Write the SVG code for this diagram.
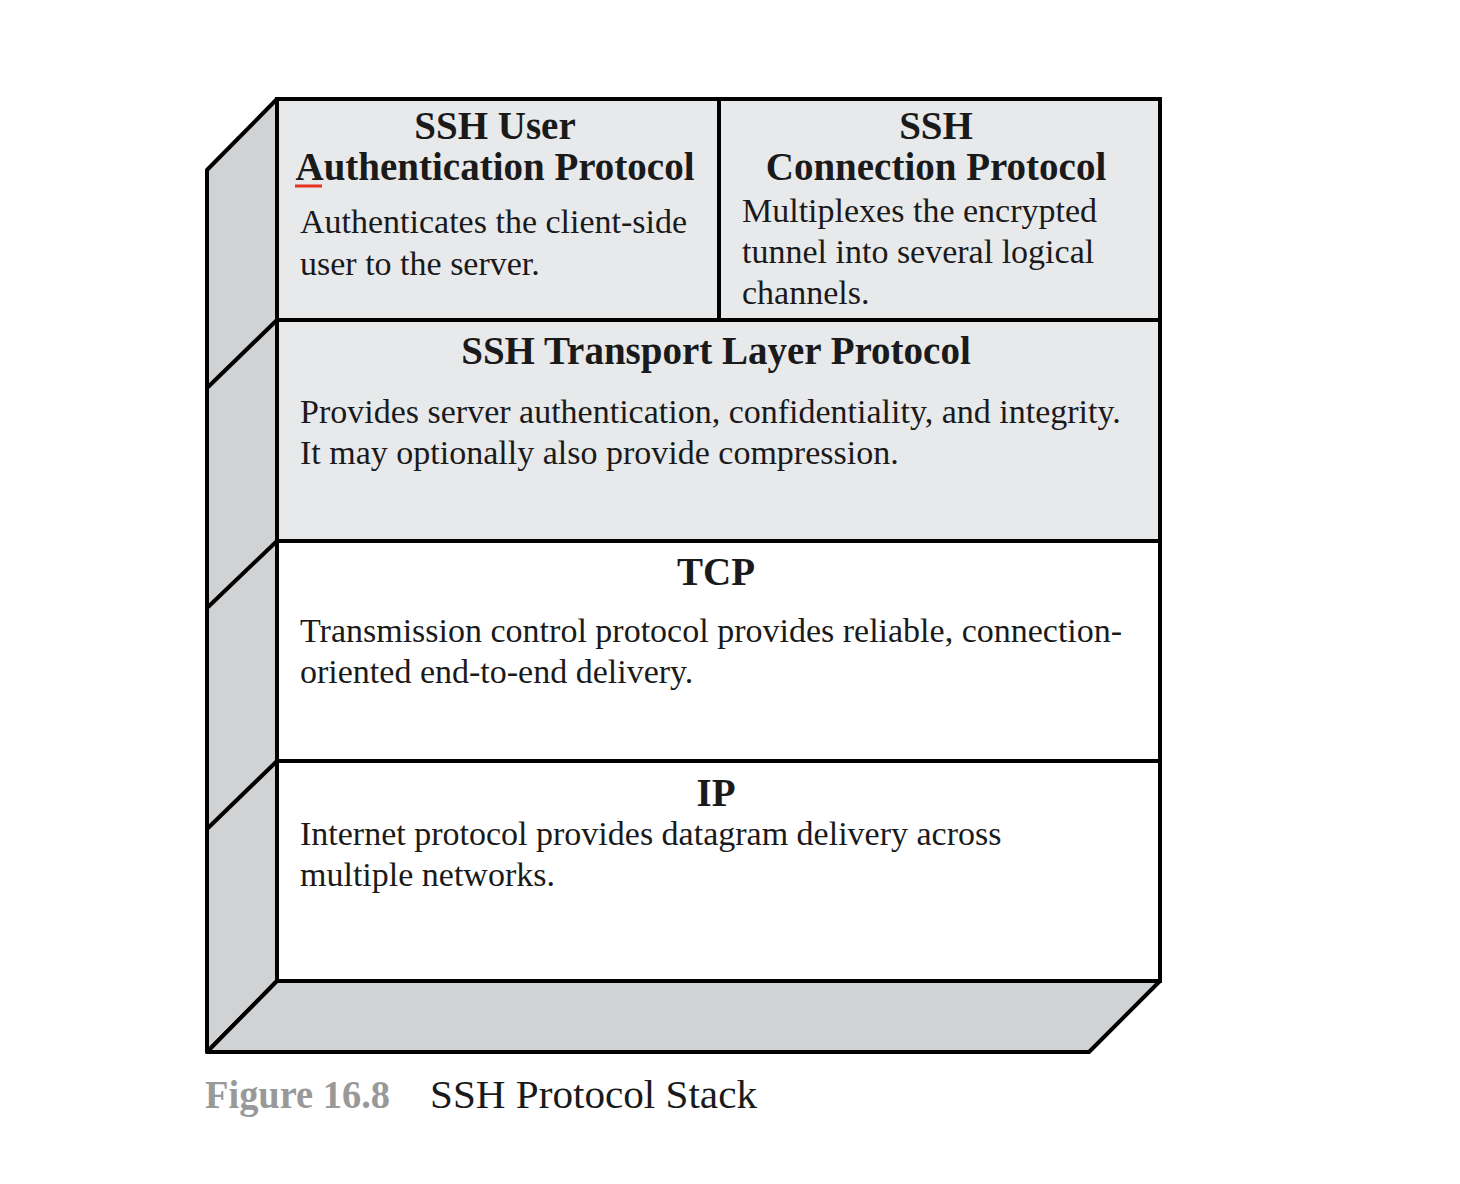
<svg xmlns="http://www.w3.org/2000/svg" width="1460" height="1184" viewBox="0 0 1460 1184">
<style>
.edge{stroke:#000;stroke-width:4;stroke-linejoin:miter;fill:none}
.side{fill:#d1d2d4;stroke:#000;stroke-width:4;stroke-linejoin:round}
.gray{fill:#e8e9eb;stroke:#000;stroke-width:4}
.white{fill:#fff;stroke:#000;stroke-width:4}
.h{font-family:"Liberation Serif","Times New Roman",serif;font-weight:bold;font-size:39px;fill:#1a1a1a;text-anchor:middle}
.b{font-family:"Liberation Serif","Times New Roman",serif;font-size:34px;fill:#1a1a1a}
.cap{font-family:"Liberation Serif","Times New Roman",serif;font-size:39px}
</style>
<rect width="1460" height="1184" fill="#fff"/>
<g id="box-sides">
<polygon class="side" points="207,170 277,99 277,981 207,1052"/>
<polygon class="side" points="207,1052 277,981 1160,981 1089,1052"/>
</g>
<g id="layer-userauth">
<rect class="gray" x="277" y="99" width="442" height="221"/>
<text class="h" x="495" y="139">SSH User</text>
<text class="h" x="495" y="180">Authentication Protocol</text>
<line x1="295" y1="186" x2="322" y2="186" stroke="#e8321e" stroke-width="3"/>
<text class="b" x="300" y="233">Authenticates the client-side</text>
<text class="b" x="300" y="275">user to the server.</text>
</g>
<g id="layer-connection">
<rect class="gray" x="719" y="99" width="441" height="221"/>
<text class="h" x="936" y="139">SSH</text>
<text class="h" x="936" y="180">Connection Protocol</text>
<text class="b" x="742" y="222">Multiplexes the encrypted</text>
<text class="b" x="742" y="263">tunnel into several logical</text>
<text class="b" x="742" y="304">channels.</text>
</g>
<g id="layer-transport">
<rect class="gray" x="277" y="320" width="883" height="221"/>
<text class="h" x="716" y="364">SSH Transport Layer Protocol</text>
<text class="b" x="300" y="423">Provides server authentication, confidentiality, and integrity.</text>
<text class="b" x="300" y="464">It may optionally also provide compression.</text>
</g>
<g id="layer-tcp">
<rect class="white" x="277" y="541" width="883" height="220"/>
<text class="h" x="716" y="585">TCP</text>
<text class="b" x="300" y="642">Transmission control protocol provides reliable, connection-</text>
<text class="b" x="300" y="683">oriented end-to-end delivery.</text>
</g>
<g id="layer-ip">
<rect class="white" x="277" y="761" width="883" height="220"/>
<text class="h" x="716" y="806">IP</text>
<text class="b" x="300" y="845">Internet protocol provides datagram delivery across</text>
<text class="b" x="300" y="886">multiple networks.</text>
</g>
<g id="connectors">
<line class="edge" x1="277" y1="320" x2="207" y2="388"/>
<line class="edge" x1="277" y1="541" x2="207" y2="608"/>
<line class="edge" x1="277" y1="761" x2="207" y2="829"/>
</g>
<g id="caption">
<text class="cap" x="205" y="1108" fill="#999" font-weight="bold" textLength="185" lengthAdjust="spacingAndGlyphs">Figure 16.8</text>
<text class="cap" x="430" y="1108" fill="#1a1a1a" textLength="327" lengthAdjust="spacingAndGlyphs">SSH Protocol Stack</text>
</g>
</svg>
